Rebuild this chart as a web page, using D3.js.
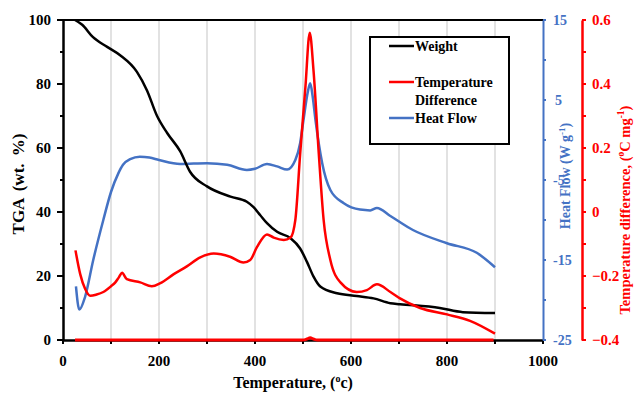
<!DOCTYPE html>
<html>
<head>
<meta charset="utf-8">
<script src="https://cdnjs.cloudflare.com/ajax/libs/d3/7.8.5/d3.min.js"></script>
<style>
  html, body { margin: 0; padding: 0; background: #fff; }
  svg { display: block; font-family: "Liberation Serif", "Times New Roman", serif; font-weight: bold; }
</style>
</head>
<body>
<svg id="chart" width="635" height="395"></svg>
<script>
// Thermal analysis: temperature (°C) for each series
const weightTemp = [25, 40, 62, 92, 119, 154, 175, 196, 217, 244, 265, 300, 349, 383, 397, 411, 425, 446, 474, 494, 508, 522, 536, 571, 612, 647, 682, 702, 785, 833, 900];
const weightPct  = [100, 98.5, 94.7, 91.6, 89, 83.8, 78, 70, 64.7, 59, 52.5, 48, 44.8, 43.2, 41.5, 39, 36.5, 33.8, 31.8, 28.6, 24.5, 19.8, 16.7, 14.6, 13.75, 13, 11.5, 11.2, 10, 8.7, 8.4];

const diffTemp = [26, 36, 46, 57, 70, 84, 100, 109, 116, 123, 133, 161, 185, 203, 230, 258, 286, 314, 348, 376, 390, 404, 425, 439, 460, 474, 484, 494, 505, 514, 522, 533, 543, 557, 578, 612, 633, 654, 682, 702, 744, 800, 848, 900];
const diffVal  = [-0.12, -0.195, -0.24, -0.262, -0.258, -0.25, -0.232, -0.22, -0.205, -0.19, -0.21, -0.22, -0.232, -0.222, -0.195, -0.17, -0.142, -0.13, -0.14, -0.158, -0.15, -0.11, -0.07, -0.08, -0.0875, -0.08, -0.025, 0.18, 0.39, 0.56, 0.44, 0.18, -0.025, -0.15, -0.22, -0.25, -0.244, -0.226, -0.25, -0.27, -0.3, -0.32, -0.34, -0.38];

const flowTemp = [27, 34, 46, 63, 84, 100, 115, 125, 140, 160, 180, 200, 244, 300, 342, 383, 400, 425, 446, 467, 484, 494, 501, 510, 515, 520, 526, 540, 557, 585, 619, 640, 654, 682, 729, 800, 862, 900];
const flowVal  = [-18.3, -21.2, -19.6, -15, -10, -6.5, -4.2, -3.1, -2.4, -2.1, -2.2, -2.5, -3.0, -2.9, -3.1, -3.75, -3.6, -3.0, -3.3, -3.7, -2.5, -0.4, 2.5, 6, 7.1, 5.5, 2.5, -2.9, -6.25, -7.9, -8.7, -8.8, -8.5, -9.5, -11.25, -12.9, -14.1, -15.9];

// Reference temperature-difference trace running along the floor
const baseTemp = [25, 500, 508, 515, 522, 530, 897];
const baseVal  = [-0.4, -0.4, -0.397, -0.393, -0.397, -0.4, -0.4];

// Axis ticks
const xTicks = [0, 100, 200, 300, 400, 500, 600, 700, 800, 900, 1000];
const xLabels = [0, 200, 400, 600, 800, 1000];
const tgaTicks = [0, 10, 20, 30, 40, 50, 60, 70, 80, 90, 100];
const tgaLabels = [0, 20, 40, 60, 80, 100];
const flowTicks = [15, 10, 5, 0, -5, -10, -15, -20, -25];
const flowLabels = [15, 5, -5, -15, -25];
const diffTicks = [0.6, 0.5, 0.4, 0.3, 0.2, 0.1, 0, -0.1, -0.2, -0.3, -0.4];
const diffLabels = [0.6, 0.4, 0.2, 0, -0.2, -0.4];

const BLUE = "#4472C4", RED = "#FF0000";
const svg = d3.select("#chart");
const pL = 63, pR = 543, pT = 20, pB = 340;

const x = d3.scaleLinear().domain([0, 1000]).range([pL, pR]);
const yW = d3.scaleLinear().domain([0, 100]).range([pB, pT]);
const yF = d3.scaleLinear().domain([-25, 15]).range([pB, pT]);
const yD = d3.scaleLinear().domain([-0.4, 0.6]).range([pB, pT]);

// vertical gridlines
svg.append("g").selectAll("line").data(xTicks.filter(t => t > 0 && t < 1000)).join("line")
  .attr("x1", d => x(d)).attr("x2", d => x(d)).attr("y1", pT).attr("y2", pB)
  .attr("stroke", "#cfcfcf").attr("stroke-width", 1.2);

// top frame
svg.append("line").attr("x1", pL).attr("x2", pR).attr("y1", pT).attr("y2", pT)
  .attr("stroke", "#000").attr("stroke-width", 2);

// left TGA axis
const gL = svg.append("g").attr("transform", `translate(${pL},0)`);
gL.call(d3.axisLeft(yW).tickValues(tgaTicks).tickSize(0).tickFormat(""));
gL.attr("font-family", null).attr("font-size", null).attr("fill", "#000");
gL.select(".domain").attr("stroke", "#000").attr("stroke-width", 2.5);
gL.selectAll(".tick").remove();
gL.selectAll("line.t").data(tgaTicks).join("line").attr("class", "t")
  .attr("x1", d => tgaLabels.includes(d) ? -6 : -3).attr("x2", 0)
  .attr("y1", d => yW(d)).attr("y2", d => yW(d)).attr("stroke", "#000").attr("stroke-width", 2);
gL.selectAll("text").data(tgaLabels).join("text")
  .attr("x", -12).attr("y", d => yW(d)).attr("dy", "0.33em").attr("fill", "#000")
  .attr("text-anchor", "end").attr("font-size", 15).text(d => d);

// bottom temperature axis
const gB = svg.append("g").attr("transform", `translate(0,${pB})`);
gB.call(d3.axisBottom(x).tickValues(xTicks).tickSize(0).tickFormat(""));
gB.attr("font-family", null).attr("font-size", null).attr("fill", "#000");
gB.select(".domain").attr("stroke", "#000").attr("stroke-width", 2.5);
gB.selectAll(".tick").remove();
gB.selectAll("line.t").data(xTicks).join("line").attr("class", "t")
  .attr("x1", d => x(d)).attr("x2", d => x(d)).attr("y1", 0).attr("y2", 4)
  .attr("stroke", "#000").attr("stroke-width", 2);
gB.selectAll("text").data(xLabels).join("text")
  .attr("x", d => x(d)).attr("y", 26).attr("fill", "#000")
  .attr("text-anchor", "middle").attr("font-size", 15).text(d => d);

// heat flow axis
const gF = svg.append("g").attr("transform", `translate(${pR},0)`);
gF.call(d3.axisRight(yF).tickValues(flowTicks).tickSize(0).tickFormat(""));
gF.attr("font-family", null).attr("font-size", null);
gF.select(".domain").attr("stroke", BLUE).attr("stroke-width", 2);
gF.selectAll(".tick").remove();
gF.selectAll("line.t").data(flowTicks).join("line").attr("class", "t")
  .attr("x1", 0).attr("x2", 3).attr("y1", d => yF(d)).attr("y2", d => yF(d))
  .attr("stroke", BLUE).attr("stroke-width", 2);
gF.selectAll("text").data(flowLabels).join("text")
  .attr("x", d => d === 5 ? 12 : 10).attr("y", d => yF(d)).attr("dy", "0.33em")
  .attr("fill", BLUE).attr("font-size", 14).text(d => d);

// temperature difference axis
const dx = 582;
const gD = svg.append("g").attr("transform", `translate(${dx},0)`);
gD.call(d3.axisRight(yD).tickValues(diffTicks).tickSize(0).tickFormat(""));
gD.attr("font-family", null).attr("font-size", null);
gD.select(".domain").attr("stroke", RED).attr("stroke-width", 2.5);
gD.selectAll(".tick").remove();
gD.selectAll("line.t").data(diffTicks).join("line").attr("class", "t")
  .attr("x1", 0).attr("x2", 4).attr("y1", d => yD(d)).attr("y2", d => yD(d))
  .attr("stroke", RED).attr("stroke-width", 2);
gD.selectAll("text").data(diffLabels).join("text")
  .attr("x", 10).attr("y", d => yD(d)).attr("dy", "0.33em")
  .attr("fill", RED).attr("font-size", 15).text(d => d3.format("")(d));

// series
const lineW = d3.line().x((d, i) => x(weightTemp[i])).y(d => yW(d)).curve(d3.curveMonotoneX);
const lineD = d3.line().x((d, i) => x(diffTemp[i])).y(d => yD(d)).curve(d3.curveMonotoneX);
const lineF = d3.line().x((d, i) => x(flowTemp[i])).y(d => yF(d)).curve(d3.curveMonotoneX);
const lineB = d3.line().x((d, i) => x(baseTemp[i])).y(d => yD(d)).curve(d3.curveMonotoneX);

svg.append("path").attr("d", lineB(baseVal)).attr("fill", "none").attr("stroke", RED).attr("stroke-width", 3);
svg.append("path").attr("d", lineF(flowVal)).attr("fill", "none").attr("stroke", BLUE).attr("stroke-width", 2.5);
svg.append("path").attr("d", lineW(weightPct)).attr("fill", "none").attr("stroke", "#000").attr("stroke-width", 2.5);
svg.append("path").attr("d", lineD(diffVal)).attr("fill", "none").attr("stroke", RED).attr("stroke-width", 2.5);

// legend
const lg = svg.append("g");
lg.append("rect").attr("x", 370).attr("y", 37).attr("width", 139).attr("height", 107)
  .attr("fill", "#fff").attr("stroke", "#000").attr("stroke-width", 2);
const legendItems = [
  { color: "#000", y: 46, lines: ["Weight"] },
  { color: RED, y: 82, lines: ["Temperature", "Difference"] },
  { color: BLUE, y: 118, lines: ["Heat Flow"] }
];
legendItems.forEach(it => {
  lg.append("line").attr("x1", 389).attr("x2", 414).attr("y1", it.y).attr("y2", it.y)
    .attr("stroke", it.color).attr("stroke-width", 2.5);
  it.lines.forEach((t, j) => {
    lg.append("text").attr("x", 415).attr("y", it.y + j * 18).attr("dy", "0.33em")
      .attr("font-size", 14).text(t);
  });
});

// axis titles
const tx = svg.append("text").attr("x", 293).attr("y", 388).attr("text-anchor", "middle").attr("font-size", 16);
tx.append("tspan").text("Temperature, (");
tx.append("tspan").attr("font-size", 10).attr("dy", -6).text("o");
tx.append("tspan").attr("dy", 6).text("c)");

svg.append("text").attr("transform", "translate(24,184) rotate(-90)").attr("text-anchor", "middle")
  .attr("font-size", 17).attr("word-spacing", 3).text("TGA (wt. %)");

const tf = svg.append("text").attr("transform", "translate(570,176) rotate(-90)").attr("text-anchor", "middle")
  .attr("font-size", 14).attr("fill", BLUE);
tf.append("tspan").text("Heat Flow (W g");
tf.append("tspan").attr("font-size", 9).attr("dy", -5).text("-1");
tf.append("tspan").attr("dy", 5).text(")");

const td = svg.append("text").attr("transform", "translate(630,210) rotate(-90)").attr("text-anchor", "middle")
  .attr("font-size", 14.5).attr("fill", RED);
td.append("tspan").text("Temperature difference, (");
td.append("tspan").attr("font-size", 9.5).attr("dy", -6).text("o");
td.append("tspan").attr("dy", 6).text("C mg");
td.append("tspan").attr("font-size", 9.5).attr("dy", -6).text("-1");
td.append("tspan").attr("dy", 6).text(")");
</script>
</body>
</html>
